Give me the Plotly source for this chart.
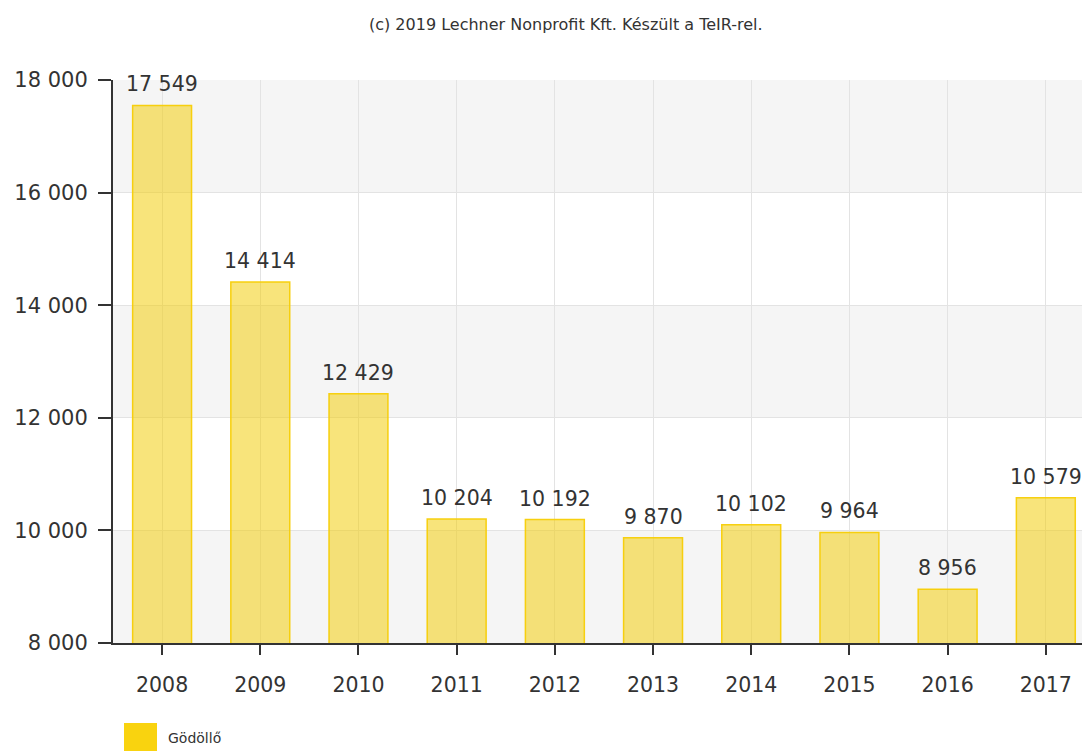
import plotly.graph_objects as go

years = ["2008", "2009", "2010", "2011", "2012", "2013", "2014", "2015", "2016", "2017"]
values = [17549, 14414, 12429, 10204, 10192, 9870, 10102, 9964, 8956, 10579]
series_name = "Gödöllő"
title_text = "(c) 2019 Lechner Nonprofit Kft. Készült a TeIR-rel."
y_ticks = [8000, 10000, 12000, 14000, 16000, 18000]

FONT = "DejaVu Sans"
TXT = "#333333"

# page has an 8px body margin; figure coordinates = page coordinates - 8
OFF = 8
W, H = 1090 - OFF, 751 - OFF
L, T, B = 113 - OFF, 80 - OFF, 751 - 643
PW = W - L
PH = H - T - B

def px_x(x_page):
    return (x_page - OFF - L) / PW

def px_y(y_page):
    return (H - B - (y_page - OFF)) / PH

fig = go.Figure()
fig.add_trace(go.Bar(
    x=years, y=values, name=series_name, width=0.6,
    marker=dict(color="rgba(242,205,15,0.55)",
                line=dict(color="rgba(247,205,5,0.95)", width=1.5)),
    showlegend=False, hoverinfo="x+y",
))

def fmt(v):
    return f"{v:,}".replace(",", " ")

for i, v in enumerate(values):
    fig.add_annotation(x=i, y=v, xref="x", yref="y", text=fmt(v),
                       showarrow=False, yshift=21,
                       font=dict(family=FONT, size=20.5, color=TXT))

# alternating bands
for i in range(0, len(y_ticks) - 1, 2):
    fig.add_shape(type="rect", xref="paper", yref="y", x0=0, x1=1,
                  y0=y_ticks[i], y1=y_ticks[i + 1], fillcolor="#f5f5f5",
                  line_width=0, layer="below")

# legend drawn manually
fig.add_shape(type="rect", xref="paper", yref="paper",
              x0=px_x(124), x1=px_x(157),
              y0=px_y(755), y1=px_y(723),
              fillcolor="#f9d30f", line_width=0)
fig.add_annotation(xref="paper", yref="paper", x=px_x(166),
                   y=px_y(738), xanchor="left", yanchor="middle",
                   text=series_name, showarrow=False,
                   font=dict(family=FONT, size=14, color=TXT))

fig.add_annotation(xref="paper", yref="paper", x=px_x(566),
                   y=px_y(25), xanchor="center", yanchor="middle",
                   text=title_text, showarrow=False,
                   font=dict(family=FONT, size=16, color=TXT))

fig.update_layout(
    width=W, height=H, autosize=False,
    margin=dict(l=L, r=0, t=T, b=B),
    paper_bgcolor="white", plot_bgcolor="white",
    separators=", ",
    font=dict(family=FONT, color=TXT),
    bargap=0.4,
)
fig.update_xaxes(
    type="category", range=[-0.5, 9.45],
    showgrid=True, gridcolor="#e3e3e3", gridwidth=1,
    showline=True, linecolor="#333333", linewidth=2,
    ticks="outside", ticklen=10, tickcolor="#333333", tickwidth=2,
    ticklabelstandoff=12,
    tickfont=dict(family=FONT, size=20.5, color=TXT),
)
fig.update_yaxes(
    range=[8000, 18000], tickvals=y_ticks, tickformat=",d",
    showgrid=True, gridcolor="#e3e3e3", gridwidth=1, zeroline=False,
    showline=True, linecolor="#333333", linewidth=2,
    ticks="outside", ticklen=13, tickcolor="#333333", tickwidth=2,
    ticklabelstandoff=6,
    tickfont=dict(family=FONT, size=21, color=TXT),
)

fig.write_html("out.html")
